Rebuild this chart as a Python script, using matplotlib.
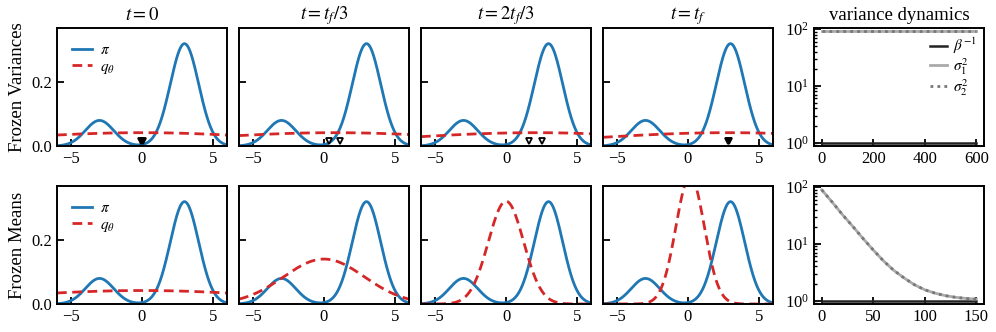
import numpy as np
import matplotlib
matplotlib.use("Agg")
import matplotlib.pyplot as plt

plt.rcParams['font.family'] = ['Liberation Serif', 'DejaVu Serif']
plt.rcParams['mathtext.fontset'] = 'stix'

# target mixture pi
pi_weights = [0.2, 0.8]
pi_means = [-3.0, 3.0]
pi_vars = [1.0, 1.0]

titles = [r'$t = 0$', r'$t = t_f/3$', r'$t = 2t_f/3$', r'$t = t_f$']
row_labels = ['Frozen Variances', 'Frozen Means']

# q_theta components per snapshot (two equal-weight components)
q_weights = [0.5, 0.5]
top_means = [[-0.05, 0.05], [0.35, 1.15], [1.6, 2.55], [2.8, 2.9]]
top_vars = [[92, 92], [92, 92], [92, 92], [92, 92]]
bot_means = [[0.0, 0.0], [0.0, 0.0], [0.0, 0.0], [0.15, 0.15]]
bot_vars = [[90, 90], [8.1, 8.1], [1.55, 1.55], [1.0, 1.0]]

# variance dynamics
top_steps = [0, 600]
top_beta = [1.0, 1.0]
top_s1 = [92, 92]
top_s2 = [92, 92]
bot_steps = [0, 10, 20, 30, 40, 50, 60, 70, 80, 90, 100, 110, 120, 130, 140, 150]
bot_beta = [1.0] * 16
bot_s1 = [90, 55, 33, 20.5, 12.5, 7.8, 5.0, 3.4, 2.5, 1.9, 1.55, 1.35, 1.22, 1.14, 1.09, 1.06]
bot_s2 = [90, 55, 33, 20.5, 12.5, 7.8, 5.0, 3.4, 2.5, 1.9, 1.55, 1.35, 1.22, 1.14, 1.09, 1.06]

BLUE = '#1f77b4'
RED = '#d62728'


def mixture(x, w, m, v):
    out = np.zeros_like(x)
    for wi, mi, vi in zip(w, m, v):
        out += wi * np.exp(-(x - mi) ** 2 / (2 * vi)) / np.sqrt(2 * np.pi * vi)
    return out


def style(ax):
    ax.tick_params(direction='in', length=5, width=1.3, labelsize=12, top=False, right=False)
    ax.tick_params(which='minor', direction='in', length=2.5, width=1.0)
    for s in ax.spines.values():
        s.set_linewidth(1.4)


W, H = 996, 332
fig = plt.figure(figsize=(W / 100, H / 100), dpi=100)
lefts = [57, 239, 421, 603]
rows_top = [28, 186]
pw, ph = 170, 118

x = np.linspace(-6, 6, 600)
p = mixture(x, pi_weights, pi_means, pi_vars)

for r in range(2):
    means = top_means if r == 0 else bot_means
    vars_ = top_vars if r == 0 else bot_vars
    for c in range(4):
        ax = fig.add_axes([lefts[c] / W, 1 - (rows_top[r] + ph) / H, pw / W, ph / H])
        ax.plot(x, p, color=BLUE, lw=2, label=r'$\pi$')
        ax.plot(x, mixture(x, q_weights, means[c], vars_[c]), color=RED, lw=2,
                ls=(0, (3.5, 2)), label=r'$q_\theta$')
        if r == 0:
            # overlapping markers read as a solid black triangle
            close = abs(means[c][1] - means[c][0]) < 0.3
            ax.plot(means[c], [0.017] * 2, 'v', ms=5, mfc='black' if close else 'white',
                    mec='black', mew=1.3, ls='none', clip_on=False)
        ax.set_xlim(-6, 6)
        ax.set_ylim(0, 0.368)
        ax.set_xticks([-5, 0, 5])
        ax.set_yticks([0.0, 0.2])
        ax.set_xticklabels(['\u22125', '0', '5'])
        if c == 0:
            ax.set_yticklabels(['0.0', '0.2'])
            ax.set_ylabel(row_labels[r], fontsize=13.5)
            ax.legend(loc='upper left', frameon=False, fontsize=11, handlelength=1.3,
                      handletextpad=0.5, borderaxespad=0.6, labelspacing=0.2)
        else:
            ax.set_yticklabels([])
        if r == 0:
            ax.set_title(titles[c], fontsize=13.5, pad=6)
        style(ax)

    # variance dynamics panel
    ax = fig.add_axes([814 / W, 1 - (rows_top[r] + ph) / H, pw / W, ph / H])
    steps = top_steps if r == 0 else bot_steps
    beta = top_beta if r == 0 else bot_beta
    s1 = top_s1 if r == 0 else bot_s1
    s2 = top_s2 if r == 0 else bot_s2
    ax.plot(steps, beta, color='#222222', lw=1.8, label=r'$\beta^{-1}$')
    ax.plot(steps, s1, color='#aaaaaa', lw=2, label=r'$\sigma_1^2$')
    ax.plot(steps, s2, color='#777777', lw=2, ls=(0, (1, 1.5)), label=r'$\sigma_2^2$')
    ax.set_yscale('log')
    ax.set_ylim(0.87, 105)
    span = steps[-1] - steps[0]
    ax.set_xlim(steps[0] - 0.05 * span, steps[-1] + 0.05 * span)
    if r == 0:
        ax.set_xticks([0, 200, 400, 600])
        ax.set_title('variance dynamics', fontsize=13.5, pad=6)
        ax.legend(loc='upper right', frameon=False, fontsize=11, handlelength=1.1,
                  handletextpad=0.4, borderaxespad=0.0, labelspacing=0.0, borderpad=0.5)
    else:
        ax.set_xticks([0, 50, 100, 150])
    style(ax)

fig.savefig('out.png', dpi=100)
